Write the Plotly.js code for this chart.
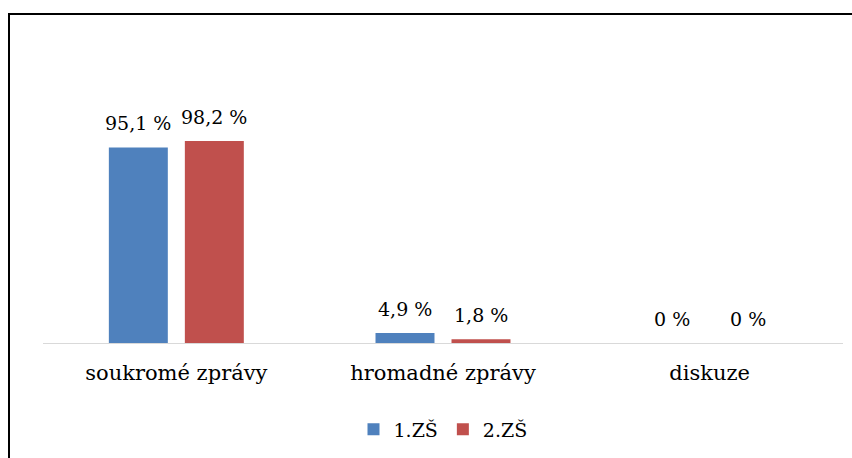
<!DOCTYPE html>
<html>
<head>
<meta charset="utf-8">
<script src="https://cdn.plot.ly/plotly-3.0.1.min.js"></script>
<style>
html,body{margin:0;padding:0;background:#fff;}
#chart{width:852px;height:458px;position:relative;}
#frame{position:absolute;left:8px;top:13px;width:900px;height:500px;border-left:2px solid #000;border-top:2px solid #000;pointer-events:none;}
</style>
</head>
<body>
<div id="chart"></div>
<div id="frame"></div>
<script>
const categories = ["soukromé zprávy", "hromadné zprávy", "diskuze"];
const seriesNames = ["1.ZŠ", "2.ZŠ"];
const values1 = [95.1, 4.9, 0];
const values2 = [98.2, 1.8, 0];
const colors = ["#4f81bd", "#c0504d"];

const FONT = "'DejaVu Serif', serif";
const bargap = 0.43;
const fmt = v => (v === 0 ? "0" : v.toFixed(1).replace(".", ",")) + " %";

const allVals = [values1, values2];
const traces = allVals.map((vals, k) => ({
  type: "bar",
  name: seriesNames[k],
  x: categories,
  y: vals,
  marker: {color: colors[k]},
  hoverinfo: "none"
}));

const annotations = [];
allVals.forEach((vals, k) => {
  const off = (k === 0 ? -1 : 1) * (1 - bargap) / 4;
  vals.forEach((v, i) => {
    annotations.push({
      xref: "x", yref: "y",
      x: i + off, y: v,
      text: fmt(v),
      showarrow: false,
      yanchor: "bottom",
      xanchor: "center",
      yshift: 11,
      font: {family: FONT, size: 19, color: "#000"}
    });
  });
});

const layout = {
  width: 852, height: 458,
  margin: {l: 43, r: 9, t: 30, b: 115, autoexpand: false},
  paper_bgcolor: "#fff", plot_bgcolor: "#fff",
  barmode: "group",
  bargap: bargap,
  bargroupgap: 0.224,
  showlegend: true,
  legend: {
    orientation: "h", x: 0.5, xanchor: "center", y: -0.215, yanchor: "top",
    font: {family: FONT, size: 19, color: "#000"},
    itemclick: false
  },
  xaxis: {
    type: "category",
    showline: true, linecolor: "#d9d9d9", linewidth: 1,
    showgrid: false, zeroline: false, ticks: "",
    ticklabelstandoff: 11,
    tickfont: {family: FONT, size: 21, color: "#000"},
    fixedrange: true
  },
  yaxis: {
    range: [0, 152.2],
    visible: false, showgrid: false, zeroline: false, fixedrange: true
  },
  annotations: annotations
};

Plotly.newPlot("chart", traces, layout, {displayModeBar: false, staticPlot: true});
</script>
</body>
</html>
